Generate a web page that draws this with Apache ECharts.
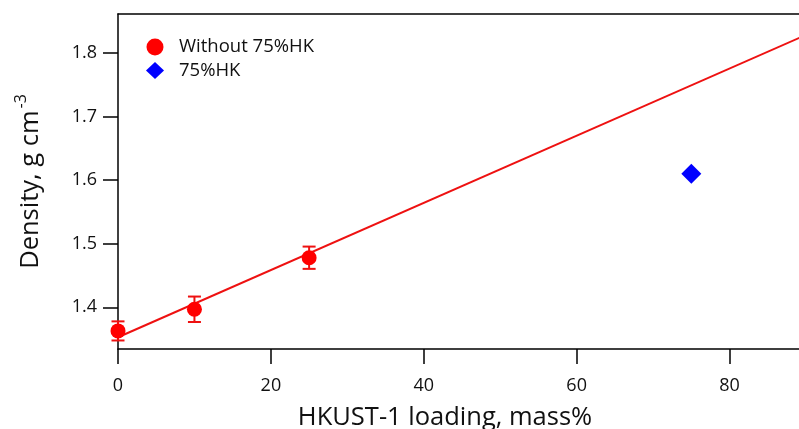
<!DOCTYPE html>
<html>
<head>
<meta charset="utf-8">
<script src="https://cdn.jsdelivr.net/npm/echarts@6/dist/echarts.min.js"></script>
<style>
html,body{margin:0;padding:0;background:#fff;}
#c{width:799px;height:429px;}
</style>
</head>
<body>
<div id="c"></div>
<script>
// ---- data ----
const loading = [0, 10, 25];
const density = [1.363, 1.397, 1.478];
const densityErr = [0.015, 0.020, 0.0175];
const hkX = [75];
const hkY = [1.610];
const fitX = [0, 90];
const fitY = [1.353, 1.828];
const xTicks = [0, 20, 40, 60, 80];
const yTicks = [1.4, 1.5, 1.6, 1.7, 1.8];
const seriesNames = ['Without 75%HK', '75%HK'];

const FONT = 'Open Sans';
const chart = echarts.init(document.getElementById('c'), null, {renderer: 'canvas'});

const pts = loading.map((x, i) => [x, density[i]]);
const errData = loading.map((x, i) => [x, density[i] - densityErr[i], density[i] + densityErr[i]]);
const hkData = hkX.map((x, i) => [x, hkY[i]]);
const fitData = fitX.map((x, i) => [x, fitY[i]]);

const XMAX = 90;

chart.setOption({
  animation: false,
  backgroundColor: '#fff',
  grid: {
    left: 118, top: 14, bottom: 80, width: 688,
    outerBoundsMode: 'none', containLabel: false,
    show: false
  },
  legend: {
    orient: 'vertical',
    left: 141, top: 32.5,
    itemWidth: 18, itemHeight: 17, itemGap: 4.5,
    textStyle: {fontFamily: FONT, fontSize: 18.5, lineHeight: 18, color: '#111', padding: [0, 0, 0, 10]},
    data: [
      {name: seriesNames[0], icon: 'circle'},
      {name: seriesNames[1], icon: 'diamond'}
    ]
  },
  xAxis: [{
    type: 'value', min: 0, max: XMAX,
    name: 'HKUST-1 loading, mass%',
    nameLocation: 'middle', nameGap: 56,
    nameTextStyle: {fontFamily: FONT, fontSize: 25.5, color: '#111', padding: [0, 34, 0, 0]},
    axisLine: {show: true, onZero: false, lineStyle: {color: '#000', width: 1.5}},
    axisTick: {show: true, inside: false, length: 15, lineStyle: {color: '#000', width: 1.5}, customValues: xTicks},
    axisLabel: {fontFamily: FONT, fontSize: 18, color: '#111', margin: 28, customValues: xTicks},
    splitLine: {show: false}
  }, {
    type: 'value', min: 0, max: XMAX, position: 'top',
    axisLine: {show: true, onZero: false, lineStyle: {color: '#000', width: 1.5}},
    axisTick: {show: false}, axisLabel: {show: false}, splitLine: {show: false}
  }],
  yAxis: {
    type: 'value', min: 1.3346, max: 1.8609,
    name: '{a|Density, g cm}{s|-3}',
    nameLocation: 'middle', nameGap: 69, nameRotate: 90,
    nameTextStyle: {
      fontFamily: FONT, fontSize: 25.5, color: '#111',
      rich: {
        a: {fontFamily: FONT, fontSize: 25.5, color: '#111'},
        s: {fontFamily: FONT, fontSize: 16, color: '#111', padding: [0, 0, 20, 2]}
      }
    },
    axisLine: {show: true, onZero: false, lineStyle: {color: '#000', width: 1.5}},
    axisTick: {show: true, inside: false, length: 15, lineStyle: {color: '#000', width: 1.5}, customValues: yTicks},
    axisLabel: {fontFamily: FONT, fontSize: 18, color: '#111', margin: 21, customValues: yTicks,
      formatter: v => v.toFixed(1)},
    splitLine: {show: false}
  },
  series: [
    {
      name: 'fit', type: 'line', data: fitData, symbol: 'none', clip: true,
      lineStyle: {color: '#ee1111', width: 2}, z: 2, silent: true
    },
    {
      name: 'err', type: 'custom', data: errData, z: 3, silent: true,
      renderItem: function (params, api) {
        const x = api.value(0);
        const lo = api.coord([x, api.value(1)]);
        const hi = api.coord([x, api.value(2)]);
        const hw = 6.5;
        const st = {stroke: '#ee1111', lineWidth: 2};
        return {
          type: 'group',
          children: [
            {type: 'line', shape: {x1: lo[0], y1: lo[1], x2: hi[0], y2: hi[1]}, style: st},
            {type: 'line', shape: {x1: lo[0] - hw, y1: lo[1], x2: lo[0] + hw, y2: lo[1]}, style: st},
            {type: 'line', shape: {x1: hi[0] - hw, y1: hi[1], x2: hi[0] + hw, y2: hi[1]}, style: st}
          ]
        };
      }
    },
    {
      name: seriesNames[0], type: 'scatter', data: pts,
      symbol: 'circle', symbolSize: 15,
      itemStyle: {color: '#ff0000', opacity: 1}, z: 4
    },
    {
      name: seriesNames[1], type: 'scatter', data: hkData,
      symbol: 'diamond', symbolSize: [20, 20],
      itemStyle: {color: '#0000ff', opacity: 1}, z: 4
    }
  ]
});
</script>
</body>
</html>
